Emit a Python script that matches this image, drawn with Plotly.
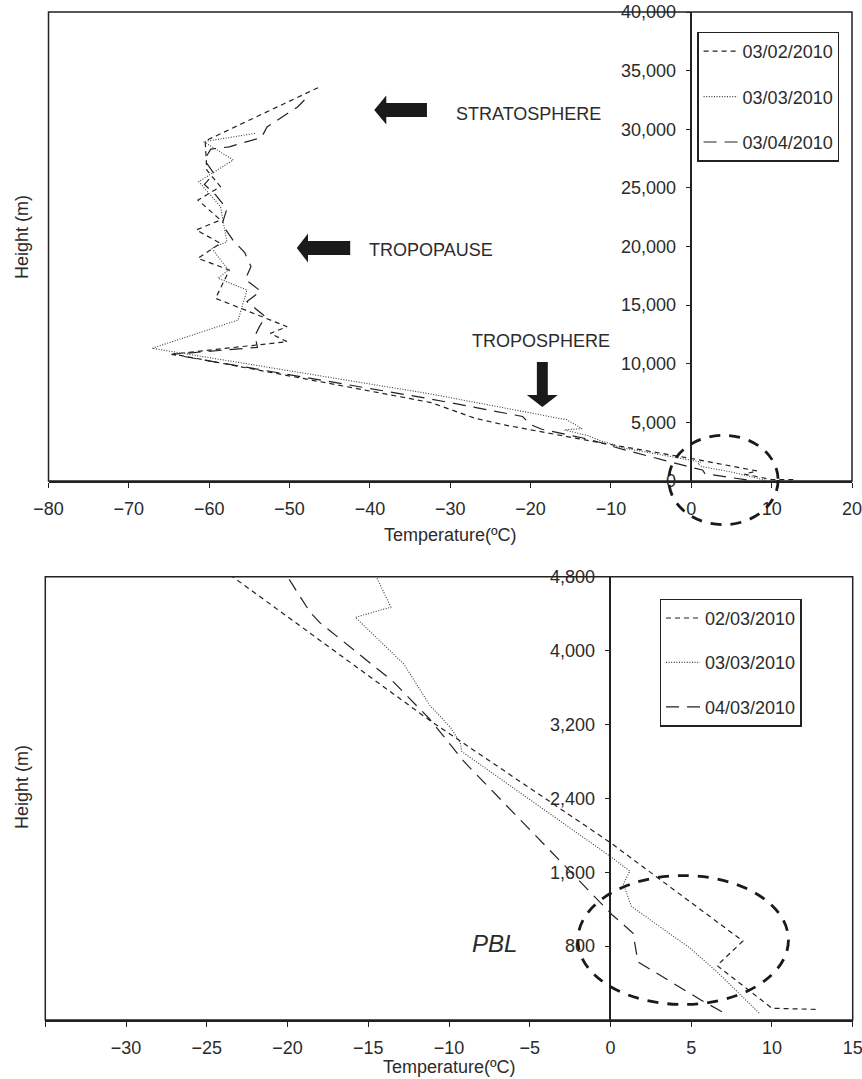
import plotly.graph_objects as go

# ---- radiosonde profiles: temperature (deg C) vs height (m) ----
t_0302 = [12.7, 10.0, 6.6, 8.2, 0.0, -9.3, -11.2, -23.4, -27.0, -32.4, -64.5,
          -50.3, -52.4, -50.3, -59.2, -57.5, -61.4, -58.6, -61.6, -58.6,
          -61.4, -58.6, -60.3, -60.5, -46.0]
h_0302 = [115, 127, 590, 855, 1920, 3020, 3245, 4800, 5370, 6690, 10830,
          11880, 12590, 13160, 15580, 17990, 18990, 20270, 21410, 22260,
          23960, 25100, 26520, 29000, 33690]

t_0303 = [9.2, 6.6, 4.9, 1.3, 0.8, 1.2, 0.0, -9.2, -9.3, -9.9, -11.2, -12.8,
          -13.9, -15.8, -13.6, -14.5, -15.5, -32.4, -67.1, -56.4, -55.3,
          -58.9, -57.6, -59.7, -57.8, -58.6, -61.3, -57.0, -60.7, -54.3]
h_0303 = [76, 521, 782, 1229, 1473, 1613, 1770, 2906, 3000, 3167, 3410, 3855,
          4040, 4360, 4470, 4800, 5220, 7420, 11320, 13730, 16290,
          17290, 18000, 19850, 20410, 23400, 25530, 27380, 28940, 29650]

t_0304 = [6.9, 5.6, 1.7, 1.4, 0.1, -9.05, -11.2, -13.5, -18.0, -18.6, -20.0,
          -21.0, -22.5, -32.4, -64.7, -54.0, -54.3, -53.8, -53.0, -55.3,
          -53.6, -55.5, -54.8, -55.6, -57.0, -58.4, -57.8, -59.2, -60.6,
          -59.4, -60.6, -59.8, -57.5, -53.5, -52.8, -49.0, -48.0]
h_0304 = [90, 216, 630, 940, 1140, 2794, 3259, 3671, 4303, 4414, 4800,
          5500, 5700, 6990, 10800, 11400, 12400, 13100, 14000, 15300,
          16200, 17200, 18300, 19500, 20500, 21900, 23200, 24400, 25300,
          26200, 27400, 28300, 28500, 29300, 30200, 31900, 32600]

top_names = ["03/02/2010", "03/03/2010", "03/04/2010"]
bot_names = ["02/03/2010", "03/03/2010", "04/03/2010"]

top_xticks = list(range(-80, 21, 10))
top_yticks = list(range(0, 40001, 5000))
bot_xticks = list(range(-35, 16, 5))
bot_yticks = list(range(800, 4801, 800))

W, H = 862, 1079
FONT = "Liberation Sans, Arial, Helvetica, sans-serif"
INK = "#222222"
TXT = "#2b2b2b"

# subplot frames in paper fractions
top_xd = [48.5 / W, 852.0 / W]
top_yd = [1 - 481.0 / H, 1 - 12.0 / H]
bot_xd = [45.3 / W, 852.7 / W]
bot_yd = [1 - 1020.0 / H, 1 - 576.7 / H]
top_xr, top_yr = [-80, 20], [0, 40000]
bot_xr, bot_yr = [-35, 15], [0, 4800]


def to_paper(x, y, xr, yr, xd, yd):
    px = xd[0] + (x - xr[0]) / (xr[1] - xr[0]) * (xd[1] - xd[0])
    py = yd[0] + (y - yr[0]) / (yr[1] - yr[0]) * (yd[1] - yd[0])
    return px, py


styles = [
    dict(color=INK, width=1.2, dash="5px,4px"),
    dict(color="#3a3a3a", width=1.1, dash="1px,1.6px"),
    dict(color=INK, width=1.2, dash="13px,8px"),
]
profiles = [(t_0302, h_0302), (t_0303, h_0303), (t_0304, h_0304)]

fig = go.Figure()
for i, (t, h) in enumerate(profiles):
    fig.add_trace(go.Scatter(x=t, y=h, mode="lines", line=styles[i],
                             name=top_names[i], legendgroup="top%d" % i,
                             legend="legend", xaxis="x", yaxis="y"))
for i, (t, h) in enumerate(profiles):
    fig.add_trace(go.Scatter(x=t, y=h, mode="lines", line=styles[i],
                             name=bot_names[i], legendgroup="bot%d" % i,
                             legend="legend2", xaxis="x2", yaxis="y2"))

axis_common = dict(showgrid=False, zeroline=False, showline=True,
                   linecolor=INK, linewidth=1.5, ticks="outside", ticklen=5,
                   tickwidth=1.3, tickcolor=INK, automargin=False,
                   ticklabeloverflow="allow",
                   tickfont=dict(family=FONT, size=18, color=TXT))

top_ypos = top_xd[0] + (0 - top_xr[0]) / (top_xr[1] - top_xr[0]) * (top_xd[1] - top_xd[0])
bot_ypos = bot_xd[0] + (0 - bot_xr[0]) / (bot_xr[1] - bot_xr[0]) * (bot_xd[1] - bot_xd[0])

legend_common = dict(xanchor="left", yanchor="top", bordercolor=INK,
                     borderwidth=1.3, bgcolor="white", itemwidth=34,
                     font=dict(family=FONT, size=18, color=TXT))

fig.update_layout(
    width=W, height=H, margin=dict(l=0, r=0, t=0, b=0, autoexpand=False),
    paper_bgcolor="white", plot_bgcolor="white",
    font=dict(family=FONT, size=18, color=TXT),
    xaxis=dict(domain=top_xd, anchor="y", range=top_xr, tickvals=top_xticks,
               ticklabelstandoff=6, **axis_common),
    yaxis=dict(domain=top_yd, anchor="free", position=top_ypos, range=top_yr,
               tickvals=top_yticks, tickformat=",", ticklabelstandoff=6,
               **axis_common),
    xaxis2=dict(domain=bot_xd, anchor="y2", range=bot_xr, tickvals=bot_xticks,
                ticktext=[""] + [str(v).replace("-", "\u2212") for v in bot_xticks[1:]],
                ticklabelstandoff=6, **axis_common),
    yaxis2=dict(domain=bot_yd, anchor="free", position=bot_ypos, range=bot_yr,
                tickvals=bot_yticks, tickformat=",", ticklabelstandoff=6,
                **axis_common),
    legend=dict(x=697.3 / W, y=1 - 31.7 / H, tracegroupgap=19, **legend_common),
    legend2=dict(x=659.7 / W, y=1 - 598.5 / H, tracegroupgap=18, **legend_common),
)

shapes = []
# plot frames
for xa, ya in (("x", "y"), ("x2", "y2")):
    shapes.append(dict(type="rect", xref=xa + " domain", yref=ya + " domain",
                       x0=0, x1=1, y0=0, y1=1,
                       line=dict(color=INK, width=1.5), layer="above"))


def block_arrow_left(tip_x, tail_x, yc, head_len, head_half, shaft_half):
    hx = tip_x + head_len
    return ("M {0},{1} L {2},{3} L {2},{4} L {5},{4} L {5},{6} L {2},{6} L {2},{7} Z"
            .format(tip_x, yc, hx, yc + head_half, yc + shaft_half, tail_x,
                    yc - shaft_half, yc - head_half))


def block_arrow_down(xc, top_y, tip_y, head_len, head_half, shaft_half):
    hy = tip_y + head_len
    return ("M {0},{1} L {2},{3} L {4},{3} L {4},{5} L {6},{5} L {6},{3} L {7},{3} Z"
            .format(xc, tip_y, xc - head_half, hy, xc - shaft_half, top_y,
                    xc + shaft_half, xc + head_half))


for path in (block_arrow_left(-39.46, -32.9, 31640, 1.5, 1240, 600),
             block_arrow_left(-49.1, -42.45, 19870, 1.4, 1240, 600),
             block_arrow_down(-18.54, 10150, 6310, 1020, 1.93, 0.68)):
    shapes.append(dict(type="path", xref="x", yref="y", path=path,
                       fillcolor="#1a1a1a", line=dict(width=0)))

# dashed rings marking the near-surface layer
for (cx, cy, rx, ry, xr, yr, xd, yd) in (
        (4.0, 85, 6.8, 3810, top_xr, top_yr, top_xd, top_yd),
        (4.5, 866, 6.52, 698, bot_xr, bot_yr, bot_xd, bot_yd)):
    x0, y0 = to_paper(cx - rx, cy - ry, xr, yr, xd, yd)
    x1, y1 = to_paper(cx + rx, cy + ry, xr, yr, xd, yd)
    shapes.append(dict(type="circle", xref="paper", yref="paper",
                       x0=x0, x1=x1, y0=y0, y1=y1,
                       line=dict(color="#1a1a1a", width=2.8, dash="11px,9px")))

fig.update_layout(shapes=shapes)

ann = [
    dict(x=-20.2, y=31330, xref="x", yref="y", text="STRATOSPHERE"),
    dict(x=-32.4, y=19740, xref="x", yref="y", text="TROPOPAUSE"),
    dict(x=-18.7, y=11970, xref="x", yref="y", text="TROPOSPHERE"),
    dict(x=-7.2, y=823, xref="x2", yref="y2", text="PBL",
         font=dict(family=FONT, size=24, color=TXT, style="italic")),
    dict(x=(top_xd[0] + top_xd[1]) / 2, y=1 - 535 / H, xref="paper", yref="paper",
         text="Temperature(\u00baC)"),
    dict(x=(bot_xd[0] + bot_xd[1]) / 2, y=1 - 1067 / H, xref="paper", yref="paper",
         text="Temperature(\u00baC)"),
    dict(x=22 / W, y=1 - 237 / H, xref="paper", yref="paper",
         text="Height (m)", textangle=-90),
    dict(x=22 / W, y=1 - 787 / H, xref="paper", yref="paper",
         text="Height (m)", textangle=-90),
]
for a in ann:
    a.setdefault("font", dict(family=FONT, size=18, color=TXT))
    a.update(showarrow=False, xanchor="center", yanchor="middle")
fig.update_layout(annotations=ann)

fig.write_html("out.html")
